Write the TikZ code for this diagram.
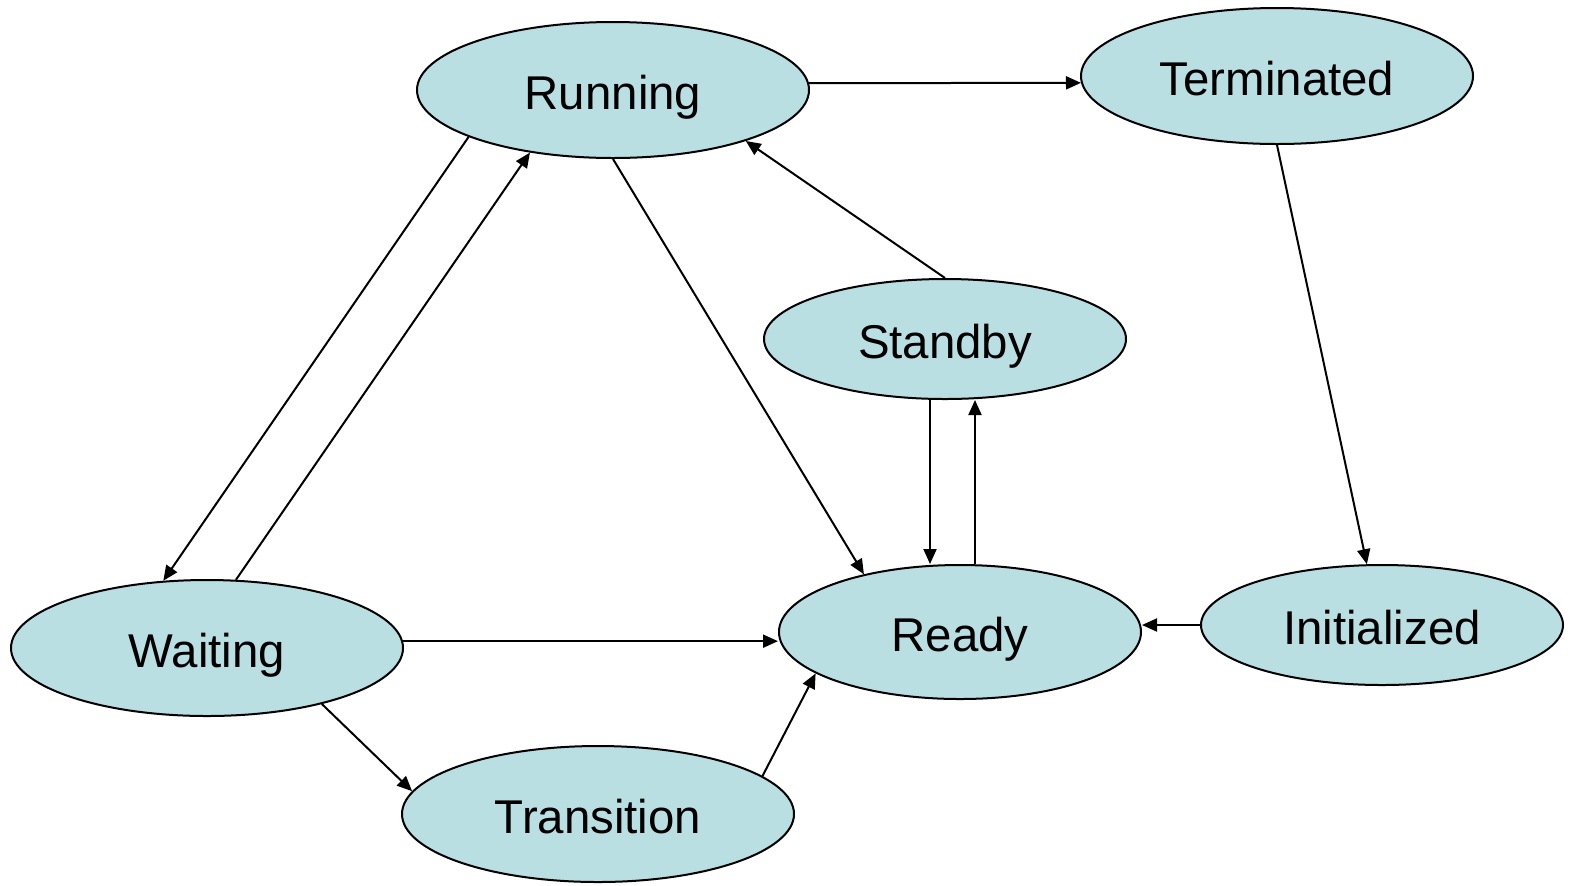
\documentclass[tikz,border=0pt]{standalone}
\usepackage{fontspec}
\setmainfont{Liberation Sans}
\usetikzlibrary{shapes.geometric,arrows.meta,calc}
\definecolor{statefill}{RGB}{185,223,227}
\tikzset{
  state/.style={ellipse, draw=black, line width=1pt, fill=statefill, inner sep=0pt,
    text height=19pt, text depth=0pt,
    font=\fontsize{23.7}{28}\selectfont},
  big/.style={state, minimum width=196pt, minimum height=68pt},
  small/.style={state, minimum width=181pt, minimum height=60pt},
  mid/.style={state, minimum width=181pt, minimum height=67pt},
  conn/.style={line width=1pt, -{Triangle[length=7.5pt,width=6.5pt]}}
}
\begin{document}
\begin{tikzpicture}[x=0.5pt,y=-0.5pt]
\useasboundingbox (0,0) rectangle (1573,885);
\node[big] (run) at (613,90) {Running};
\node[big] (term) at (1277,76) {Terminated};
\node[small] (stand) at (945,339) {Standby};
\node[mid] (ready) at (960,632) {Ready};
\node[small] (init) at (1382,625) {Initialized};
\node[big] (wait) at (207,648) {Waiting};
\node[big] (trans) at (598,814) {Transition};

\draw[conn] (run.2) -- (term.182);
\draw[conn] (term.south) -- (init.104);
\draw[conn] (init.west) -- (init.west -| ready.east);
\draw[conn] (stand.north) -- (run.-21);
\draw[conn] ($(stand.south)+(-15,0)$) -- ($(ready.north)+(-30,0)$);
\draw[conn] ($(ready.north)+(15,0)$) -- ($(stand.south)+(30,0)$);
\draw[conn] (run.south) -- (ready.149);
\draw[conn] (run.198) -- (wait.123);
\draw[conn] (wait.67) -- (run.217);
\draw[conn] (wait.2) -- (wait.2 -| ready.west);
\draw[conn] (wait.-26) -- (trans.173);
\draw[conn] (trans.13) -- (ready.196);
\end{tikzpicture}
\end{document}
